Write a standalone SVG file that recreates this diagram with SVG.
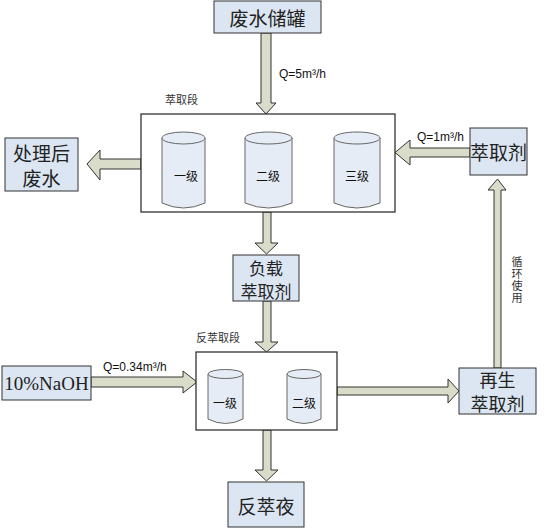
<svg xmlns="http://www.w3.org/2000/svg" width="553" height="530" viewBox="0 0 553 530">
<style>
.box{fill:#DCE6F2;stroke:#333;stroke-width:1}
.stage{fill:#fff;stroke:#222;stroke-width:1.2}
.arr{fill:#D9DCC8;stroke:#333;stroke-width:1;stroke-linejoin:miter}
.cyl{fill:#E6ECF6;stroke:#666;stroke-width:1}
.t20{font-family:"Noto Sans CJK SC",sans-serif;font-size:19px;fill:#222;text-anchor:middle;dominant-baseline:central}
.t18{font-family:"Noto Sans CJK SC",sans-serif;font-size:18px;fill:#222;text-anchor:middle;dominant-baseline:central}
.t12{font-family:"Noto Sans CJK SC",sans-serif;font-size:11px;fill:#333}
.q{font-family:"Liberation Sans",Arial,sans-serif;font-size:12px;fill:#111}
.cl{font-family:"Noto Sans CJK SC",sans-serif;font-size:12px;fill:#111;text-anchor:middle;dominant-baseline:central}
</style>
<rect width="553" height="530" fill="#fff"/>
<g id="connectors">
<polygon class="arr" points="261,33 271,33 271,103 276,103 266,114 256,103 261,103"/>
<polygon class="arr" points="470,148 410,148 410,140 395,152.5 410,165 410,157 470,157"/>
<polygon class="arr" points="141,159 100,159 100,150 87,164 100,180 100,169 141,169"/>
<polygon class="arr" points="263,212 271,212 271,243 278,243 266.5,254 255,243 263,243"/>
<polygon class="arr" points="263,301 271,301 271,342 278,342 266.5,352 255,342 263,342"/>
<polygon class="arr" points="91,377 183,377 183,371 197,382 183,393 183,387 91,387"/>
<polygon class="arr" points="263,430 271,430 271,470 278,470 266.5,481 255,470 263,470"/>
<polygon class="arr" points="337,387 448,387 448,379 459,391 448,403 448,395 337,395"/>
<polygon class="arr" points="494,368 494,190 488,190 497.5,179 506,190 501,190 501,368"/>
<text class="q" x="279" y="78">Q=5m³/h</text>
<text class="q" x="417" y="141">Q=1m³/h</text>
<text class="q" x="103" y="371">Q=0.34m³/h</text>
<text class="t12" x="517" y="256" style="writing-mode:vertical-rl;letter-spacing:1px">循环使用</text>
</g>
<g id="tank">
<rect class="box" x="214" y="1" width="107" height="32"/>
<text class="t20" x="267.5" y="17">废水储罐</text>
</g>
<g id="extraction">
<rect class="stage" x="141" y="114" width="254" height="98"/>
<text class="t12" x="165" y="104">萃取段</text>
<path class="cyl" d="M162,138 A21.5,6 0 0 1 205,138 L205,203 Q183.5,213 162,203 Z"/>
<path class="cyl" d="M162,138 A21.5,6 0 0 0 205,138" fill="none"/>
<path class="cyl" d="M245,138 A23.5,6 0 0 1 292,138 L292,203 Q268.5,213 245,203 Z"/>
<path class="cyl" d="M245,138 A23.5,6 0 0 0 292,138" fill="none"/>
<path class="cyl" d="M334,138 A23,6 0 0 1 380,138 L380,203 Q357,213 334,203 Z"/>
<path class="cyl" d="M334,138 A23,6 0 0 0 380,138" fill="none"/>
<text class="cl" x="186" y="175">一级</text>
<text class="cl" x="268" y="175">二级</text>
<text class="cl" x="357" y="175">三级</text>
</g>
<g id="extractant">
<rect class="box" x="470" y="128" width="57" height="47"/>
<text class="t20" x="498.5" y="151.5">萃取剂</text>
</g>
<g id="treated">
<rect class="box" x="5" y="138" width="73" height="53"/>
<text class="t20"><tspan x="41.5" y="152">处理后</tspan><tspan x="41.5" y="177">废水</tspan></text>
</g>
<g id="loaded">
<rect class="box" x="233" y="255" width="66" height="46"/>
<text class="t18" style="font-size:17px"><tspan x="266" y="266.5">负载</tspan><tspan x="266" y="290">萃取剂</tspan></text>
</g>
<g id="stripping">
<rect class="stage" x="196" y="352" width="141" height="78"/>
<text class="t12" x="196" y="342">反萃取段</text>
<path class="cyl" d="M208,374 A17.5,4.5 0 0 1 243,374 L243,419 Q225.5,428 208,419 Z"/>
<path class="cyl" d="M208,374 A17.5,4.5 0 0 0 243,374" fill="none"/>
<path class="cyl" d="M287,374 A17,4.5 0 0 1 321,374 L321,419 Q304,428 287,419 Z"/>
<path class="cyl" d="M287,374 A17,4.5 0 0 0 321,374" fill="none"/>
<text class="cl" x="225" y="402">一级</text>
<text class="cl" x="304" y="402">二级</text>
</g>
<g id="naoh">
<rect class="box" x="2" y="366" width="89" height="34"/>
<text x="46.5" y="383" font-family="Liberation Serif,serif" font-size="19" fill="#222" text-anchor="middle" dominant-baseline="central">10%NaOH</text>
</g>
<g id="strip-liquor">
<rect class="box" x="228" y="482" width="76" height="45"/>
<text class="t20" x="266" y="505">反萃夜</text>
</g>
<g id="regenerated">
<rect class="box" x="459" y="368" width="77" height="46"/>
<text class="t18"><tspan x="497.5" y="379">再生</tspan><tspan x="497.5" y="403">萃取剂</tspan></text>
</g>
</svg>
